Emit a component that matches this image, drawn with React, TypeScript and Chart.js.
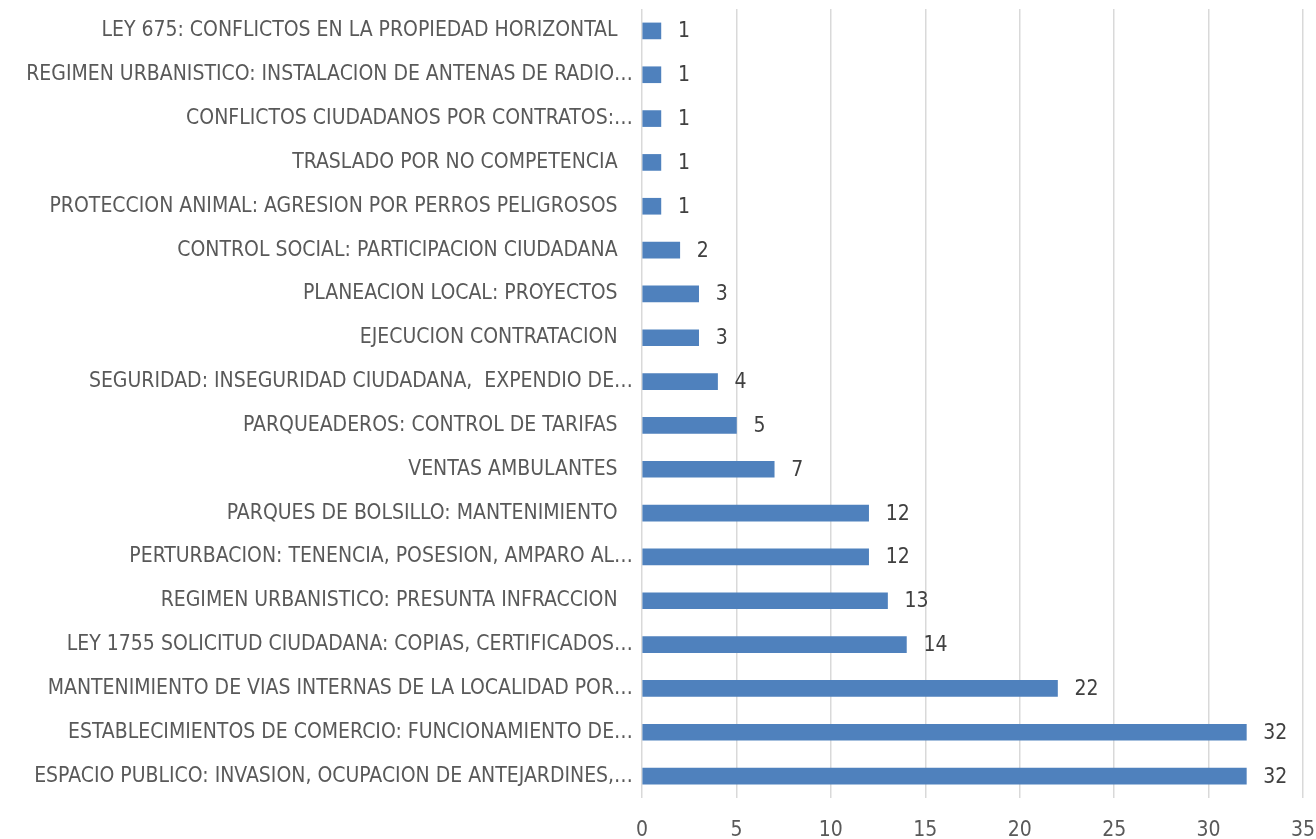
import React, { useEffect, useRef } from "react";
import { Chart, registerables } from "chart.js";

Chart.register(...registerables);

const categories: string[] = [
  "LEY 675: CONFLICTOS EN LA PROPIEDAD HORIZONTAL",
  "REGIMEN URBANISTICO: INSTALACION DE ANTENAS DE RADIO…",
  "CONFLICTOS CIUDADANOS POR CONTRATOS:…",
  "TRASLADO POR NO COMPETENCIA",
  "PROTECCION ANIMAL: AGRESION POR PERROS PELIGROSOS",
  "CONTROL SOCIAL: PARTICIPACION CIUDADANA",
  "PLANEACION LOCAL: PROYECTOS",
  "EJECUCION CONTRATACION",
  "SEGURIDAD: INSEGURIDAD CIUDADANA,  EXPENDIO DE…",
  "PARQUEADEROS: CONTROL DE TARIFAS",
  "VENTAS AMBULANTES",
  "PARQUES DE BOLSILLO: MANTENIMIENTO",
  "PERTURBACION: TENENCIA, POSESION, AMPARO AL…",
  "REGIMEN URBANISTICO: PRESUNTA INFRACCION",
  "LEY 1755 SOLICITUD CIUDADANA: COPIAS, CERTIFICADOS…",
  "MANTENIMIENTO DE VIAS INTERNAS DE LA LOCALIDAD POR…",
  "ESTABLECIMIENTOS DE COMERCIO: FUNCIONAMIENTO DE…",
  "ESPACIO PUBLICO: INVASION, OCUPACION DE ANTEJARDINES,…",
];

const values: number[] = [1, 1, 1, 1, 1, 2, 3, 3, 4, 5, 7, 12, 12, 13, 14, 22, 32, 32];

const xTickMin = 0;
const xTickMax = 35;
const xTickStep = 5;

const FONT_FAMILY = "'Liberation Sans Narrow', 'DejaVu Sans Condensed', sans-serif";
const FONT_SIZE = 21;

const valueLabelPlugin = {
  id: "valueLabels",
  afterDatasetsDraw(chart: any) {
    const ctx = chart.ctx;
    const meta = chart.getDatasetMeta(0);
    ctx.save();
    ctx.font = `${FONT_SIZE}px ${FONT_FAMILY}`;
    ctx.fillStyle = "#404040";
    ctx.textAlign = "left";
    ctx.textBaseline = "middle";
    meta.data.forEach((bar: any, i: number) => {
      ctx.fillText(String(values[i]), bar.x + 17, bar.y + 1);
    });
    ctx.restore();
  },
};

export default function App() {
  const ref = useRef<HTMLCanvasElement | null>(null);

  useEffect(() => {
    if (!ref.current) return;
    const labels = categories.map((c) => (c.endsWith("…") ? c : c + "\u2002 "));
    const chart = new Chart(ref.current, {
      type: "bar",
      data: {
        labels,
        datasets: [
          {
            data: values,
            backgroundColor: "#4F81BD",
            borderWidth: 0,
            barThickness: 16,
          },
        ],
      },
      plugins: [valueLabelPlugin],
      options: {
        indexAxis: "y",
        animation: false,
        responsive: false,
        maintainAspectRatio: false,
        layout: { padding: { top: 9, right: 13, left: 0, bottom: 0 } },
        plugins: {
          legend: { display: false },
          tooltip: { enabled: false },
        },
        scales: {
          x: {
            min: xTickMin,
            max: xTickMax,
            ticks: {
              stepSize: xTickStep,
              color: "#595959",
              font: { family: FONT_FAMILY, size: FONT_SIZE },
              padding: 20,
            },
            grid: { color: "#D9D9D9", lineWidth: 1.5, drawTicks: false },
            border: { display: false },
            afterFit: (scale: any) => {
              scale.height = 41;
              scale.paddingLeft = 0;
              scale.paddingRight = 0;
            },
          },
          y: {
            ticks: {
              color: "#595959",
              font: { family: FONT_FAMILY, size: FONT_SIZE },
              padding: 9,
              autoSkip: false,
            },
            grid: { display: false, drawTicks: false },
            border: { display: false },
            afterFit: (scale: any) => {
              scale.width = 642;
              scale.paddingTop = 0;
              scale.paddingBottom = 0;
            },
          },
        },
      },
    });
    return () => chart.destroy();
  }, []);

  return (
    <div style={{ position: "fixed", left: 0, top: 0, width: 1316, height: 839, background: "#fff" }}>
      <canvas ref={ref} width={1316} height={839} style={{ width: 1316, height: 839, display: "block" }} />
    </div>
  );
}
